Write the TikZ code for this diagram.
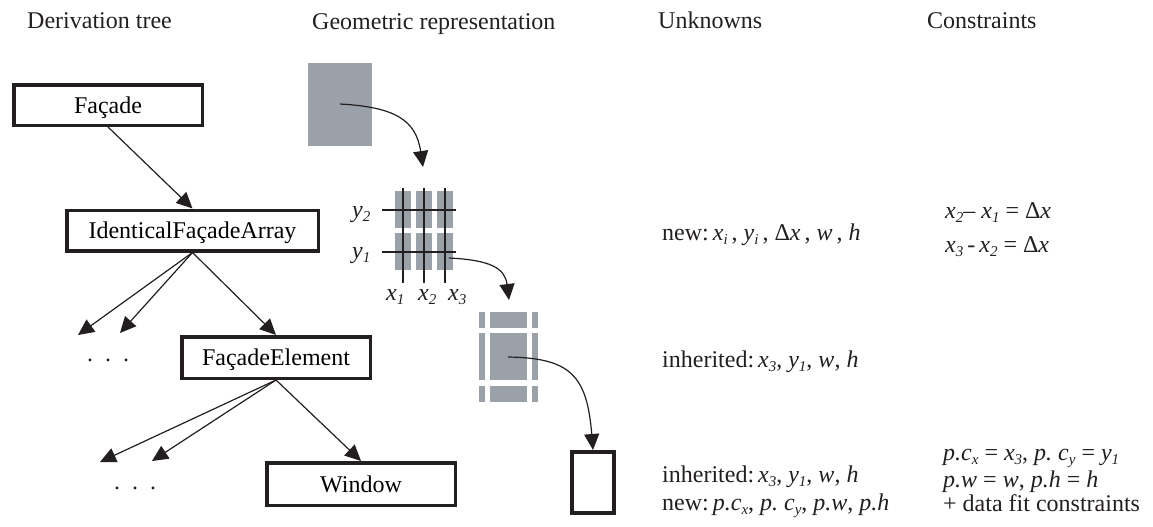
\documentclass[tikz,border=0pt]{standalone}
\usepackage{fontspec}
\setmainfont{Liberation Serif}
\usetikzlibrary{arrows.meta}
\definecolor{gblk}{RGB}{155,161,168}
\definecolor{ink}{RGB}{35,31,32}
\newcommand\sbx[1]{\raisebox{-0.2em}{\fontsize{15}{15}\selectfont\itshape #1}}
\newcommand\vr[2]{\textit{#1}\sbx{#2}}
\tikzset{
  tbox/.style={draw=ink, line width=3.5pt, inner sep=0pt, text height=16.5pt, text depth=0.5pt, align=center},
  arr/.style={-{Triangle[length=16pt,width=15pt]}, line width=1.2pt, draw=ink},
  lbl/.style={anchor=base west, inner sep=0pt, text=ink},
  blk/.style={fill=gblk},
  gline/.style={draw=ink, line width=1.3pt}
}
\begin{document}
\begin{tikzpicture}[x=1pt,y=-1pt,font=\fontsize{24}{28}\selectfont]
\useasboundingbox (0,0) rectangle (1153,527);
% headers
\node[lbl] (hd1) at (27,29) {Derivation tree};
\node[lbl] (hd2) at (312,30) {Geometric representation};
\node[lbl] (hd3) at (658,29) {Unknowns};
\node[lbl] (hd4) at (927,29) {Constraints};
% tree
\node[tbox, minimum width=188.5pt, minimum height=40.5pt] (facade) at (108,105) {Façade};
\node[tbox, minimum width=251.5pt, minimum height=40.5pt] (ifa) at (192.5,230.5) {IdenticalFaçadeArray};
\node[tbox, minimum width=188.5pt, minimum height=41.5pt] (fe) at (276,357.5) {FaçadeElement};
\node[tbox, minimum width=188.5pt, minimum height=42.5pt] (win) at (361,484) {Window};
\coordinate (d1) at (78,335);
\coordinate (d2) at (120,333);
\coordinate (e1) at (100,462);
\coordinate (e2) at (152,461);
\node[lbl] (dots1) at (87,361) {.\ \ .\ \ .};
\node[lbl] (dots2) at (114,489) {.\ \ .\ \ .};
\draw[arr] (facade.south) -- (ifa.north);
\draw[arr] (ifa.south) -- (d1);
\draw[arr] (ifa.south) -- (d2);
\draw[arr] (ifa.south) -- (fe.north);
\draw[arr] (fe.south) -- (e1);
\draw[arr] (fe.south) -- (e2);
\draw[arr] (fe.south) -- (win.north);
% geometric representation
\fill[blk] (308,63) rectangle (372,146);
\coordinate (g1s) at (340,104);
\coordinate (g1e) at (423,167);
\draw[arr] (g1s) .. controls (395,107) and (416,120) .. (g1e);
% grid
\foreach \xa/\xb in {395/411,416/432,437/453}{
  \foreach \ya/\yb in {191/228,233/270}{
    \fill[blk] (\xa,\ya) rectangle (\xb,\yb);
  }
}
\foreach \xx in {403,424,445}{\draw[gline] (\xx,188) -- (\xx,283);}
\foreach \yy in {210,252}{\draw[gline] (382,\yy) -- (456,\yy);}
\node[lbl] (ly2) at (352,217) {\vr{y}{2}};
\node[lbl] (ly1) at (352,258) {\vr{y}{1}};
\node[lbl] (lx1) at (386,300) {\vr{x}{1}};
\node[lbl] (lx2) at (418,300) {\vr{x}{2}};
\node[lbl] (lx3) at (448,300) {\vr{x}{3}};
\coordinate (g2s) at (449,258);
\coordinate (g2e) at (509,300);
\draw[arr] (g2s) .. controls (490,260) and (505,268) .. (g2e);
% element
\foreach \xa/\xb in {479/485,490/527,532/538}{
  \foreach \ya/\yb in {312/328,333/380,386/402}{
    \fill[blk] (\xa,\ya) rectangle (\xb,\yb);
  }
}
\node[draw=ink, line width=4pt, minimum width=42pt, minimum height=61pt, inner sep=0pt] (wrect) at (593,482.5) {};
\coordinate (g3s) at (508,357);
\draw[arr] (g3s) .. controls (570,358) and (587,375) .. (wrect.north);
% unknowns
\node[lbl] (u1) at (662,240) {new:\,\vr{x}{i}\,,\ \vr{y}{i}\,,\ Δ\textit{x}\,,\ \textit{w}\,,\ \textit{h}};
\node[lbl] (u2) at (662,367) {inherited:\,\vr{x}{3}, \vr{y}{1}, \textit{w}, \textit{h}};
\node[lbl] (u3) at (662,482) {inherited:\,\vr{x}{3}, \vr{y}{1}, \textit{w}, \textit{h}};
\node[lbl] (u4) at (662,510) {new:\,\textit{p.c}\sbx{x}, \textit{p.\ c}\sbx{y}, \textit{p.w}, \textit{p.h}};
% constraints
\node[lbl] (c1) at (945,218) {\vr{x}{2}– \vr{x}{1} = Δ\textit{x}};
\node[lbl] (c2) at (945,252) {\vr{x}{3}\,-\,\vr{x}{2} = Δ\textit{x}};
\node[lbl] (c3) at (943,460) {\textit{p.c}\sbx{x} = \vr{x}{3}, \textit{p.\ c}\sbx{y} = \vr{y}{1}};
\node[lbl] (c4) at (943,487) {\textit{p.w} = \textit{w}, \textit{p.h} = \textit{h}};
\node[lbl] (c5) at (943,511) {+ data fit constraints};
\end{tikzpicture}
\end{document}
